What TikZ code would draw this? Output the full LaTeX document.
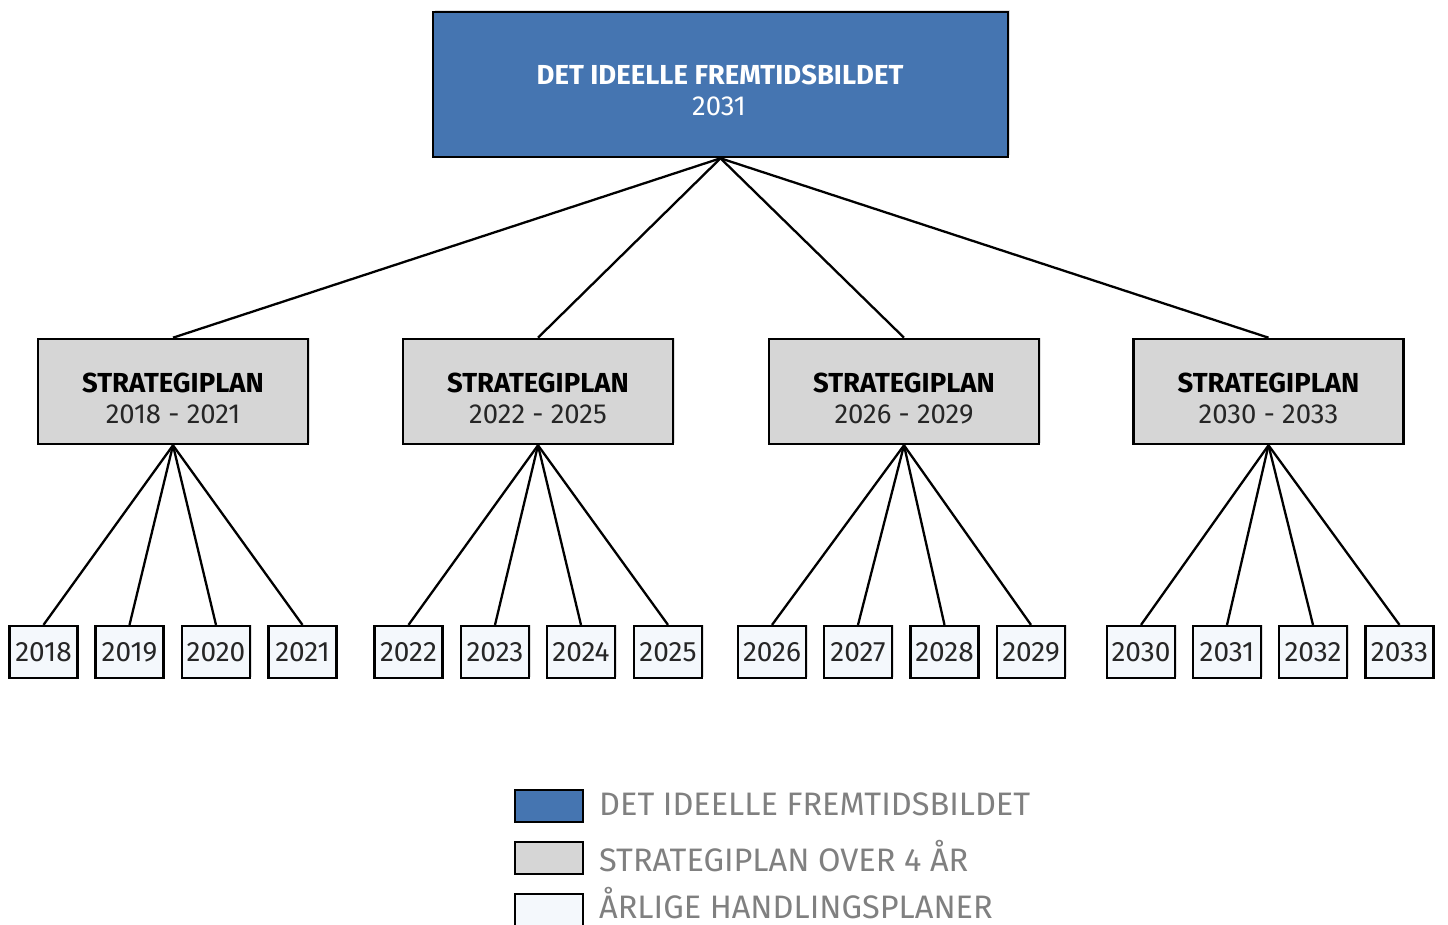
\documentclass[tikz,border=0pt]{standalone}
\usepackage{fontspec}
\setmainfont{Fira Sans}
\usetikzlibrary{shadows}
\definecolor{topblue}{RGB}{69,117,177}
\definecolor{plangray}{RGB}{214,214,214}
\definecolor{yearfill}{RGB}{244,248,252}
\definecolor{legtext}{RGB}{128,128,128}
\tikzset{
  boxbase/.style={draw=black, line width=2.6pt, rectangle, inner sep=0pt,
    drop shadow={opacity=0.25, shadow xshift=1.5pt, shadow yshift=1.5pt}},
  topbox/.style={boxbase, fill=topblue, minimum width=575pt, minimum height=145pt},
  planbox/.style={boxbase, fill=plangray, minimum width=270pt, minimum height=105pt},
  yearbox/.style={boxbase, line width=2.2pt, fill=yearfill, minimum width=68pt, minimum height=52pt,
    font=\fontsize{28}{28}\selectfont, text=black!85},
  legbox/.style={draw=black, line width=2.6pt, rectangle, minimum width=68pt, minimum height=32pt, inner sep=0pt},
  legtxt/.style={anchor=west, text=legtext, font=\fontsize{32.5}{32.5}\selectfont, inner sep=0pt},
  titletxt/.style={font=\bfseries\fontsize{27.5}{27.5}\selectfont, inner sep=0pt},
  subtxt/.style={font=\fontsize{27.5}{27.5}\selectfont, inner sep=0pt},
  conn/.style={line width=2.3pt}
}
\begin{document}
\begin{tikzpicture}[x=1pt,y=-1pt]
\useasboundingbox (0,0) rectangle (1448,925);
% top box
\node[topbox] (top) at (720.5,84.5) {};
\node[titletxt, text=white] (toptitle) at (720,75) {DET IDEELLE FREMTIDSBILDET};
\node[subtxt, text=white] (topyear) at (719,106) {2031};
% strategy plans
\foreach \n/\x/\a/\b in {1/173/2018/2021, 2/538/2022/2025, 3/904/2026/2029, 4/1268.5/2030/2033}{
  \node[planbox] (p\n) at (\x,391.5) {};
  \node[titletxt] (pt\n) at (\x,383) {STRATEGIPLAN};
  \node[subtxt, text=black!85] (py\n) at (\x,414) {\a\ - \b};
}
% years
\foreach \y/\x/\p in {2018/43.5/1, 2019/129.5/1, 2020/216/1, 2021/302.5/1,
                      2022/408.5/2, 2023/495/2, 2024/581/2, 2025/668/2,
                      2026/772/3, 2027/858/3, 2028/944.5/3, 2029/1031/3,
                      2030/1141/4, 2031/1227/4, 2032/1313/4, 2033/1399.5/4}{
  \node[yearbox] (y\y) at (\x,652) {\raisebox{-3pt}{\y}};
  \draw[conn] (p\p.south) -- (y\y.north);
}
\foreach \n in {1,2,3,4}{
  \draw[conn] (top.south) -- (p\n.north);
}
% legend
\node[legbox, fill=topblue] (lb1) at (549,806) {};
\node[legtxt] (lt1) at (599,804) {DET IDEELLE FREMTIDSBILDET};
\node[legbox, fill=plangray] (lb2) at (549,858) {};
\node[legtxt] (lt2) at (599,856) {STRATEGIPLAN OVER 4 ÅR};
\node[legbox, fill=yearfill] (lb3) at (549,910) {};
\node[legtxt] (lt3) at (599,903) {ÅRLIGE HANDLINGSPLANER};
\end{tikzpicture}
\end{document}
